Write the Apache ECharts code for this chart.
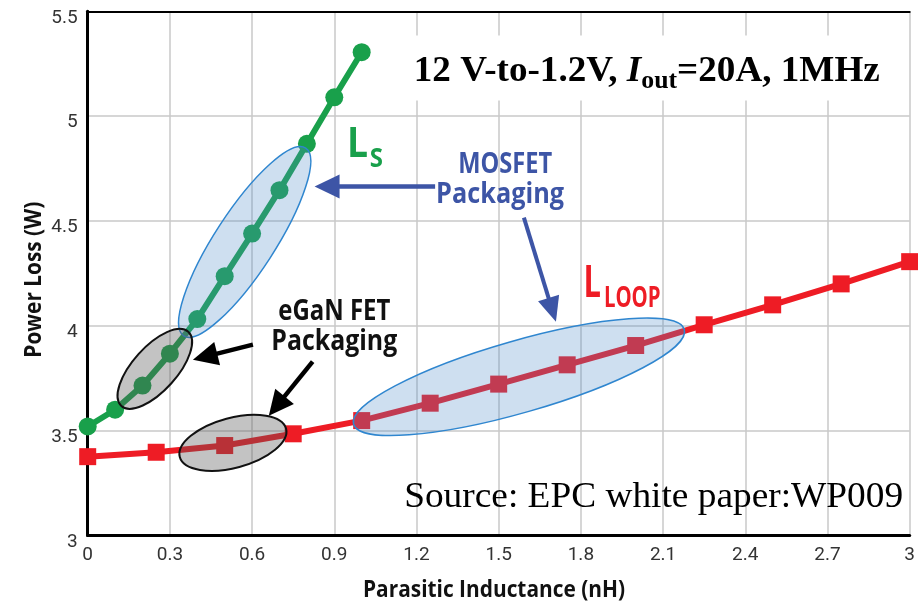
<!DOCTYPE html>
<html><head><meta charset="utf-8">
<script src="https://cdn.jsdelivr.net/npm/echarts@6/dist/echarts.min.js"></script>
<style>html,body{margin:0;padding:0;background:#fff}#c{width:918px;height:604px}</style>
</head><body><div id="c"></div>
<script>
// ---- data ----
const greenX = [0, 0.1, 0.2, 0.3, 0.4, 0.5, 0.6, 0.7, 0.8, 0.9, 1.0];
const greenY = [3.52, 3.60, 3.715, 3.867, 4.032, 4.237, 4.44, 4.647, 4.868, 5.09, 5.305];
const redX = [0, 0.25, 0.5, 0.75, 1.0, 1.25, 1.5, 1.75, 2.0, 2.25, 2.5, 2.75, 3.0];
const redY = [3.376, 3.397, 3.429, 3.485, 3.548, 3.631, 3.722, 3.814, 3.906, 4.005, 4.10, 4.20, 4.306];
const xTicks = [0, 0.3, 0.6, 0.9, 1.2, 1.5, 1.8, 2.1, 2.4, 2.7, 3];
const yTicks = [3, 3.5, 4, 4.5, 5, 5.5];
const xName = 'Parasitic Inductance (nH)';
const yName = 'Power Loss (W)';

const COND = "'Open Sans','Roboto',sans-serif";
const TICKF = "'Roboto','Open Sans',sans-serif";
const SERIF = "'Liberation Serif','Times New Roman',serif";
const GREEN = '#19a04b', RED = '#ee1c25', BLUE = '#3d55a6';

const chart = echarts.init(document.getElementById('c'), null, {renderer: 'canvas'});
const fmt = v => String(+(+v).toFixed(1));
const option = {
  animation: false,
  backgroundColor: '#fff',
  grid: {left: 87.7, right: 6.5, top: 11.3, bottom: 68.5},
  xAxis: [{
    type: 'value', min: xTicks[0], max: xTicks[xTicks.length - 1], interval: 0.3,
    axisLine: {show: true, onZero: false, lineStyle: {color: '#000', width: 3}},
    axisTick: {show: false},
    axisLabel: {fontFamily: TICKF, fontSize: 19, color: '#333', margin: 10, formatter: fmt},
    splitLine: {show: true, lineStyle: {color: '#c8c8c8', width: 1.5}}
  }, {
    type: 'value', position: 'top', min: 0, max: 3, interval: 0.3,
    axisLine: {show: true, lineStyle: {color: '#000', width: 2}},
    axisTick: {show: false}, axisLabel: {show: false}, splitLine: {show: false}
  }],
  yAxis: [{
    type: 'value', min: yTicks[0], max: yTicks[yTicks.length - 1], interval: 0.5,
    axisLine: {show: true, onZero: false, lineStyle: {color: '#000', width: 3}},
    axisTick: {show: false},
    axisLabel: {margin: 10, formatter: v => '{a|' + fmt(v) + '}',
      rich: {a: {fontFamily: TICKF, fontSize: 19, color: '#333', padding: [13, 0, 0, 0]}}},
    splitLine: {show: true, lineStyle: {color: '#c8c8c8', width: 1.5}}
  }, {
    type: 'value', position: 'right', min: 3, max: 5.5, interval: 0.5,
    axisLine: {show: true, lineStyle: {color: '#000', width: 2}},
    axisTick: {show: false}, axisLabel: {show: false}, splitLine: {show: false}
  }],
  series: [{
    name: 'LLOOP', type: 'line', clip: false,
    data: redX.map((x, i) => [x, redY[i]]),
    lineStyle: {color: RED, width: 6}, itemStyle: {color: RED},
    symbol: 'rect', symbolSize: 17
  }, {
    name: 'LS', type: 'line', clip: false,
    data: greenX.map((x, i) => [x, greenY[i]]),
    lineStyle: {color: GREEN, width: 6}, itemStyle: {color: GREEN},
    symbol: 'circle', symbolSize: 18
  }]
};
chart.setOption(option);

// ---- annotations (anchored in data coordinates) ----
const P = (x, y) => chart.convertToPixel({gridIndex: 0}, [x, y]);
const g = [];
const mctx = document.createElement('canvas').getContext('2d');
function fontStr(p) { return `${p.style || 'normal'} ${p.weight || 'normal'} ${p.size}px ${p.family}`; }
function baseOff(p) {
  mctx.font = fontStr(p);
  mctx.textBaseline = 'alphabetic';
  const a = mctx.measureText('H').actualBoundingBoxAscent;
  mctx.textBaseline = 'middle';
  const m = mctx.measureText('H').actualBoundingBoxAscent;
  return a - m;
}
function width(p) { mctx.font = fontStr(p); return mctx.measureText(p.text).width + (p.gap || 0); }
function tstyle(p) {
  return {text: p.text, fontSize: p.size, fontFamily: p.family, fontWeight: p.weight || 'normal',
    fontStyle: p.style || 'normal', fill: p.fill, align: 'left', verticalAlign: 'middle'};
}
// pieces laid left to right from (x, baseline y); total width fitted to targetW
function textRun(dx, dy, pieces, align, targetW) {
  const [px, py] = P(dx, dy);
  const natural = pieces.reduce((s, p) => s + width(p), 0);
  const sc = targetW ? targetW / natural : 1;
  const total = natural * sc;
  let x = align === 'center' ? px - total / 2 : px;
  pieces.forEach(p => {
    g.push({type: 'text', z: 120, x: x, y: py + (p.dy || 0) - baseOff(p), scaleX: sc, style: tstyle(p)});
    x += width(p) * sc;
  });
}
function vText(dx, dy, p, targetW) {
  const [px, py] = P(dx, dy);
  const sc = targetW ? targetW / width(p) : 1;
  const st = tstyle(p); st.align = 'center';
  g.push({type: 'text', z: 120, x: px - baseOff(p), y: py, rotation: Math.PI / 2, scaleX: sc, style: st});
}
function ellipse(cx, cy, rx, ry, deg, fill, stroke, lw) {
  const [x, y] = P(cx, cy);
  g.push({type: 'ellipse', z: 100, x: x, y: y, rotation: deg * Math.PI / 180,
    shape: {cx: 0, cy: 0, rx: rx, ry: ry}, style: {fill: fill, stroke: stroke, lineWidth: lw}});
}
function arrow(x1, y1, x2, y2, color, lw, hl, hw) {
  const [ax, ay] = P(x1, y1), [bx, by] = P(x2, y2);
  const L = Math.hypot(bx - ax, by - ay), ux = (bx - ax) / L, uy = (by - ay) / L;
  const cx = bx - ux * hl, cy = by - uy * hl;
  g.push({type: 'line', z: 110, shape: {x1: ax, y1: ay, x2: cx + ux * 2, y2: cy + uy * 2},
    style: {stroke: color, lineWidth: lw}});
  g.push({type: 'polygon', z: 110, shape: {points: [[bx, by], [cx - uy * hw / 2, cy + ux * hw / 2], [cx + uy * hw / 2, cy - ux * hw / 2]]},
    style: {fill: color}});
}

const BLUEFILL = 'rgba(80,140,200,0.28)', BLUESTROKE = '#2f86cf';
const GRAYFILL = 'rgba(90,90,90,0.36)';
ellipse(0.573, 4.40, 112, 30, 57, BLUEFILL, BLUESTROKE, 1.5);
ellipse(0.245, 3.795, 50, 22, 48, GRAYFILL, '#111', 2);
ellipse(0.53, 3.442, 55, 25, 15, GRAYFILL, '#111', 2);
ellipse(1.574, 3.757, 172, 36, 16, BLUEFILL, BLUESTROKE, 1.5);

arrow(1.268, 4.664, 0.828, 4.664, BLUE, 4.5, 25, 24);
arrow(1.592, 4.516, 1.709, 4.019, BLUE, 4, 25, 22);
arrow(0.603, 3.91, 0.384, 3.838, '#000', 4.5, 25, 24);
arrow(0.821, 3.829, 0.661, 3.571, '#000', 4.5, 25, 24);

// title box
(function () {
  const [x1, y1] = P(1.166, 5.385), [x2, y2] = P(2.94, 5.075);
  g.push({type: 'rect', z: 90, shape: {x: x1, y: y1, width: x2 - x1, height: y2 - y1}, style: {fill: '#fff'}});
})();
textRun(1.19, 5.166, [
  {text: '12 V-to-1.2V, ', size: 36, family: SERIF, weight: 'bold', fill: '#000'},
  {text: 'I', size: 36, family: SERIF, weight: 'bold', style: 'italic', fill: '#000'},
  {text: 'out', size: 25, family: SERIF, weight: 'bold', fill: '#000', dy: 7},
  {text: '=20A, 1MHz', size: 36, family: SERIF, weight: 'bold', fill: '#000'}
], 'left', 466);
textRun(1.155, 3.1375, [{text: 'Source: EPC white paper:WP009', size: 36, family: SERIF, fill: '#000'}], 'left', 499);
textRun(0.946, 4.803, [
  {text: 'L', size: 42, family: COND, weight: 'bold', fill: GREEN, gap: 2},
  {text: 'S', size: 27, family: COND, weight: 'bold', fill: GREEN, dy: 10}
], 'left', 36);
textRun(1.81, 4.139, [
  {text: 'L', size: 44, family: COND, weight: 'bold', fill: RED, gap: 4},
  {text: 'LOOP', size: 29, family: COND, weight: 'bold', fill: RED, dy: 10}
], 'left', 77);
textRun(1.524, 4.731, [{text: 'MOSFET', size: 29, family: COND, weight: 'bold', fill: BLUE}], 'center', 94);
textRun(1.505, 4.588, [{text: 'Packaging', size: 29, family: COND, weight: 'bold', fill: BLUE}], 'center', 128);
textRun(0.90, 4.029, [{text: 'eGaN FET', size: 28, family: COND, weight: 'bold', fill: '#111'}], 'center', 112);
textRun(0.90, 3.886, [{text: 'Packaging', size: 28, family: COND, weight: 'bold', fill: '#111'}], 'center', 126);
// axis titles
textRun(1.483, 2.706, [{text: xName, size: 24, family: COND, weight: 'bold', fill: '#111'}], 'center', 262);
vText(-0.170, 4.22, {text: yName, size: 23, family: COND, weight: 'bold', fill: '#111'}, 156);

chart.setOption({graphic: {elements: g}});
</script></body></html>
